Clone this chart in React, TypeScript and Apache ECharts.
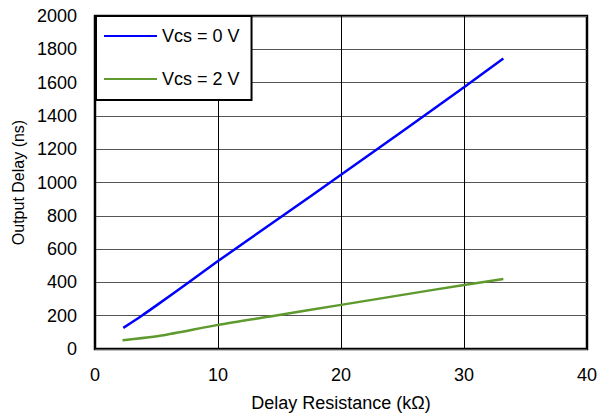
import React, { useEffect, useRef } from "react";
import * as echarts from "echarts";

const seriesNames = ["Vcs = 0 V", "Vcs = 2 V"];
const resistance0 = [2.3, 3.8, 5, 7.6, 10, 15, 20, 25, 30, 33.2];
const delay0 = [127, 200, 262, 400, 528, 787, 1046, 1308, 1572, 1745];
const resistance2 = [2.24, 5.4, 10, 14.6, 20, 25, 30, 33.2];
const delay2 = [52, 81, 145, 200, 265, 325, 385, 420];

export default function App() {
  const ref = useRef<HTMLDivElement>(null);
  useEffect(() => {
    if (!ref.current) return;
    const chart = echarts.init(ref.current, undefined, { renderer: "svg" });
    const font = "Liberation Sans, Arial, Helvetica, sans-serif";
    chart.setOption({
      animation: false,
      backgroundColor: "#fff",
      textStyle: { fontFamily: font },
      grid: {
        left: 95,
        right: 11,
        top: 16,
        bottom: 65,
        show: true,
        borderColor: "#000",
        borderWidth: 2.5,
        backgroundColor: "transparent",
      },
      legend: {
        orient: "vertical",
        left: 96,
        top: 16,
        padding: [11, 12, 12, 8],
        itemGap: 25,
        itemWidth: 53,
        itemHeight: 2,
        icon: "rect",
        borderColor: "#000",
        borderWidth: 2,
        borderRadius: 0,
        backgroundColor: "#fff",
        textStyle: { fontSize: 18, color: "#000", fontFamily: font },
        data: seriesNames,
      },
      xAxis: {
        type: "value",
        min: 0,
        max: 40,
        interval: 10,
        name: "Delay Resistance (kΩ)",
        nameLocation: "middle",
        nameGap: 45,
        nameTextStyle: { fontSize: 18, color: "#000", fontFamily: font },
        axisLine: { show: false },
        axisTick: { show: false },
        axisLabel: { fontSize: 18, color: "#000", margin: 17, fontFamily: font },
        splitLine: { show: true, lineStyle: { color: "#000", width: 1 } },
      },
      yAxis: {
        type: "value",
        min: 0,
        max: 2000,
        interval: 200,
        name: "Output Delay (ns)",
        nameLocation: "middle",
        nameGap: 68,
        nameTextStyle: { fontSize: 16, color: "#000", fontFamily: font },
        axisLine: { show: false },
        axisTick: { show: false },
        axisLabel: {
          fontSize: 18,
          color: "#000",
          margin: 18,
          fontFamily: font,
          formatter: (v: number) => String(v),
        },
        splitLine: { show: true, lineStyle: { color: "#555", width: 1 } },
      },
      series: [
        {
          name: seriesNames[0],
          type: "line",
          smooth: 0.25,
          symbol: "none",
          data: resistance0.map((x, i) => [x, delay0[i]]),
          lineStyle: { color: "#0000ff", width: 2.5 },
          itemStyle: { color: "#0000ff" },
          z: 3,
        },
        {
          name: seriesNames[1],
          type: "line",
          smooth: 0.25,
          symbol: "none",
          data: resistance2.map((x, i) => [x, delay2[i]]),
          lineStyle: { color: "#5f9a2f", width: 2.5 },
          itemStyle: { color: "#5f9a2f" },
          z: 3,
        },
      ],
    });
    return () => chart.dispose();
  }, []);
  return <div ref={ref} style={{ width: 600, height: 417, position: "absolute", left: 0, top: 0 }} />;
}
